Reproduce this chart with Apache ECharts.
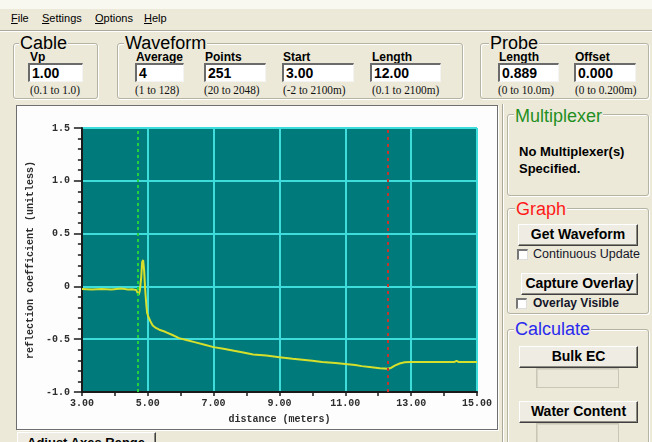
<!DOCTYPE html>
<html>
<head>
<meta charset="utf-8">
<title>TDR Waveform</title>
<script src="https://cdn.jsdelivr.net/npm/echarts@6/dist/echarts.min.js"></script>
<style>
  html, body { margin: 0; padding: 0; }
  body {
    width: 652px; height: 442px; overflow: hidden; position: relative;
    background: #ECE9D8; font-family: "Liberation Sans", Arial, sans-serif; color: #000;
  }
  .a { position: absolute; white-space: nowrap; }
  .topstrip { left: 0; top: 0; width: 652px; height: 9px; background: #f8f7f0; }
  .menu { top: 11px; font-size: 11px; line-height: 14px; }
  .menu u { text-decoration: underline; }
  .sep { left: 0; width: 652px; height: 1px; }
  .grp { border: 1px solid #b5b3a4; border-radius: 3px; box-shadow: inset 1px 1px 0 #fff, 1px 1px 0 #fff; }
  .gt { font-size: 18px; line-height: 18px; background: #ECE9D8; padding: 0 1px; }
  .lbl { top: 50px; font-size: 12px; line-height: 14px; font-weight: bold; }
  .inp {
    top: 63px; height: 16px; background: #fff;
    border-top: 2px solid #6b6b6b; border-left: 2px solid #6b6b6b;
    border-right: 1px solid #f4f4f4; border-bottom: 1px solid #f4f4f4;
    font-size: 14px; line-height: 17px; font-weight: bold; padding-left: 2px; box-sizing: content-box;
  }
  .rng { top: 83px; font-family: "Liberation Serif", "Times New Roman", serif; font-size: 12.5px; line-height: 14px; color: #111;
    transform: scaleX(0.9); transform-origin: left center; }
  .btn {
    background: #efede3; box-sizing: border-box;
    border-top: 1px solid #fff; border-left: 1px solid #fff;
    border-right: 1px solid #404040; border-bottom: 1px solid #404040;
    box-shadow: inset -1px -1px 0 #8d8b80;
    font-weight: bold; font-size: 14px; text-align: center; line-height: 19px;
  }
  .chk { width: 11px; height: 11px; background: #fff; box-sizing: border-box;
    border-top: 2px solid #777; border-left: 2px solid #777; border-right: 1px solid #ddd; border-bottom: 1px solid #ddd; }
  .box { background: #ebe8da; box-sizing: border-box; border: 1px solid #c9c6b6; box-shadow: inset 1px 1px 0 #d8d5c6; }
  #panel { left: 16px; top: 105px; width: 482px; height: 325px; box-sizing: border-box;
    border: 1px solid #6f6f6f; background: #fdfdfd; box-shadow: 1px 1px 0 #fff; }
  #chart { position: absolute; left: 17px; top: 106px; width: 480px; height: 323px; }
</style>
</head>
<body>
<div class="a topstrip"></div>
<div class="a menu" style="left:11px"><u>F</u>ile</div>
<div class="a menu" style="left:42px"><u>S</u>ettings</div>
<div class="a menu" style="left:95px"><u>O</u>ptions</div>
<div class="a menu" style="left:144px"><u>H</u>elp</div>
<div class="a sep" style="top:30px;background:#aca899"></div>
<div class="a sep" style="top:31px;background:#fff"></div>

<!-- Cable -->
<div class="a grp" style="left:13px;top:43px;width:83px;height:54px"></div>
<div class="a gt" style="left:19px;top:34px">Cable</div>
<div class="a lbl" style="left:30px">Vp</div>
<div class="a inp" style="left:28px;width:50px">1.00</div>
<div class="a rng" style="left:30px">(0.1 to 1.0)</div>

<!-- Waveform -->
<div class="a grp" style="left:117px;top:43px;width:344px;height:54px"></div>
<div class="a gt" style="left:124px;top:34px">Waveform</div>
<div class="a lbl" style="left:136px">Average</div>
<div class="a inp" style="left:135px;width:44px">4</div>
<div class="a rng" style="left:135px">(1 to 128)</div>
<div class="a lbl" style="left:205px">Points</div>
<div class="a inp" style="left:204px;width:57px">251</div>
<div class="a rng" style="left:204px">(20 to 2048)</div>
<div class="a lbl" style="left:283px">Start</div>
<div class="a inp" style="left:282px;width:67px">3.00</div>
<div class="a rng" style="left:283px">(-2 to 2100m)</div>
<div class="a lbl" style="left:372px">Length</div>
<div class="a inp" style="left:370px;width:66px">12.00</div>
<div class="a rng" style="left:372px">(0.1 to 2100m)</div>

<!-- Probe -->
<div class="a grp" style="left:480px;top:43px;width:167px;height:54px"></div>
<div class="a gt" style="left:489px;top:34px">Probe</div>
<div class="a lbl" style="left:499px">Length</div>
<div class="a inp" style="left:498px;width:56px">0.889</div>
<div class="a rng" style="left:498px">(0 to 10.0m)</div>
<div class="a lbl" style="left:575px">Offset</div>
<div class="a inp" style="left:574px;width:57px">0.000</div>
<div class="a rng" style="left:575px">(0 to 0.200m)</div>

<!-- graph panel -->
<div class="a" id="panel"></div>
<div id="chart"></div>
<div class="a btn" style="left:17px;top:432px;width:139px;height:22px;font-size:13px;text-align:left;padding-left:9px">Adjust Axes Range</div>

<!-- right side -->
<div class="a" style="left:502px;top:104px;width:1px;height:338px;background:#aca899"></div>
<div class="a" style="left:503px;top:104px;width:1px;height:338px;background:#fff"></div>

<div class="a grp" style="left:507px;top:114px;width:140px;height:80px"></div>
<div class="a gt" style="left:514px;top:107px;color:#1f8f1f">Multiplexer</div>
<div class="a" style="left:519px;top:143px;font-size:13px;line-height:17px;font-weight:bold">No Multiplexer(s)<br>Specified.</div>

<div class="a grp" style="left:507px;top:208px;width:140px;height:104px"></div>
<div class="a gt" style="left:515px;top:200px;color:#ff1a1a">Graph</div>
<div class="a btn" style="left:518px;top:224px;width:120px;height:22px">Get Waveform</div>
<div class="a chk" style="left:517px;top:249px"></div>
<div class="a" style="left:533px;top:247px;font-size:12.5px;line-height:15px;color:#15152a">Continuous Update</div>
<div class="a btn" style="left:521px;top:273px;width:117px;height:22px">Capture Overlay</div>
<div class="a chk" style="left:516px;top:298px"></div>
<div class="a" style="left:533px;top:296px;font-size:12px;line-height:15px;font-weight:bold;color:#15152a">Overlay Visible</div>

<div class="a grp" style="left:507px;top:329px;width:140px;height:130px"></div>
<div class="a gt" style="left:514px;top:320px;color:#2a2aee">Calculate</div>
<div class="a btn" style="left:519px;top:346px;width:119px;height:22px">Bulk EC</div>
<div class="a box" style="left:536px;top:368px;width:83px;height:20px"></div>
<div class="a btn" style="left:519px;top:401px;width:119px;height:22px">Water Content</div>
<div class="a box" style="left:536px;top:423px;width:83px;height:20px"></div>

<script>
// Sampled trace: distance along the cable (m) and reflection coefficient
const distance = [
  3.00, 3.30, 3.60, 3.90, 4.20, 4.40, 4.55, 4.65, 4.72, 4.76,
  4.80, 4.83, 4.86, 4.89, 4.92, 4.95, 4.98, 5.02, 5.08, 5.15,
  5.23, 5.35, 5.53, 5.75, 5.95, 6.20, 6.45, 6.70, 7.00, 7.30,
  7.62, 7.90, 8.20, 8.60, 9.00, 9.40, 9.70, 10.00, 10.30, 10.70,
  11.00, 11.30, 11.50, 11.80, 12.05, 12.30, 12.40, 12.50, 12.65, 12.80,
  13.00, 13.50, 14.00, 14.30, 14.38, 14.45, 14.70, 15.00
];
const reflection = [
  -0.025, -0.030, -0.025, -0.030, -0.020, -0.030, -0.028, -0.035, -0.080, -0.040,
  0.080, 0.230, 0.250, 0.150, -0.020, -0.150, -0.250, -0.290, -0.330, -0.370,
  -0.390, -0.410, -0.430, -0.460, -0.490, -0.510, -0.530, -0.550, -0.575, -0.590,
  -0.610, -0.625, -0.645, -0.655, -0.670, -0.685, -0.695, -0.705, -0.715, -0.725,
  -0.735, -0.745, -0.755, -0.765, -0.775, -0.780, -0.770, -0.750, -0.730, -0.718,
  -0.717, -0.717, -0.717, -0.717, -0.705, -0.717, -0.717, -0.717
];
// Probe start / end cursors (m)
const probeStart = 4.70;
const probeEnd = 12.30;
// Axis ranges
const xRange = [3, 15];
const yRange = [-1.0, 1.5];

const monoFont = '"Liberation Mono", "Courier New", monospace';
const textColor = '#2e2e2e';
const gridCyan = '#3fdcdc';

const chart = echarts.init(document.getElementById('chart'), null, { renderer: 'canvas' });
chart.setOption({
  animation: false,
  backgroundColor: 'transparent',
  grid: {
    left: 58, top: 22, width: 402, height: 267,
    show: true, backgroundColor: '#007a7a', borderWidth: 0
  },
  xAxis: {
    type: 'value', min: xRange[0], max: xRange[1], interval: 1,
    name: 'distance (meters)', nameLocation: 'middle', nameGap: 22,
    nameTextStyle: { fontFamily: monoFont, fontWeight: 'bold', fontSize: 10, color: textColor },
    axisLine: { show: true, onZero: false, lineStyle: { color: '#1a1a1a', width: 2 } },
    axisTick: { show: true, length: 4, lineStyle: { color: '#1a1a1a', width: 1.5 } },
    axisLabel: {
      margin: 6, fontFamily: monoFont, fontWeight: 'bold', fontSize: 10, color: textColor,
      formatter: v => (Math.round(v) % 2 === 1 ? v.toFixed(2) : '')
    },
    splitLine: { show: true, lineStyle: { color: [gridCyan, 'rgba(0,0,0,0)'], width: 2 } }
  },
  yAxis: {
    type: 'value', min: yRange[0], max: yRange[1], interval: 0.5,
    name: 'reflection coefficient (unitless)', nameLocation: 'middle', nameGap: 42,
    nameTextStyle: { fontFamily: monoFont, fontWeight: 'bold', fontSize: 10, color: textColor },
    axisLine: { show: true, onZero: false, lineStyle: { color: '#1a1a1a', width: 2 } },
    axisTick: { show: true, length: 8, lineStyle: { color: '#1a1a1a', width: 1.5 } },
    minorTick: { show: true, splitNumber: 5, length: 4, lineStyle: { color: '#1a1a1a', width: 1.5 } },
    axisLabel: {
      margin: 12, fontFamily: monoFont, fontWeight: 'bold', fontSize: 10, color: textColor,
      formatter: v => (Math.abs(v) < 1e-9 ? '0' : v.toFixed(1))
    },
    splitLine: { show: true, lineStyle: { color: gridCyan, width: 2 } }
  },
  series: [{
    type: 'line',
    data: distance.map((d, i) => [d, reflection[i]]),
    showSymbol: false,
    lineStyle: { color: '#d6e02c', width: 2 },
    markLine: {
      silent: true, symbol: 'none', label: { show: false },
      data: [
        { xAxis: probeStart, lineStyle: { color: '#23d23a', type: [3, 3], width: 2 } },
        { xAxis: probeEnd, lineStyle: { color: '#c8322b', type: [3, 4], width: 2 } }
      ]
    }
  }]
});
</script>
</body>
</html>
